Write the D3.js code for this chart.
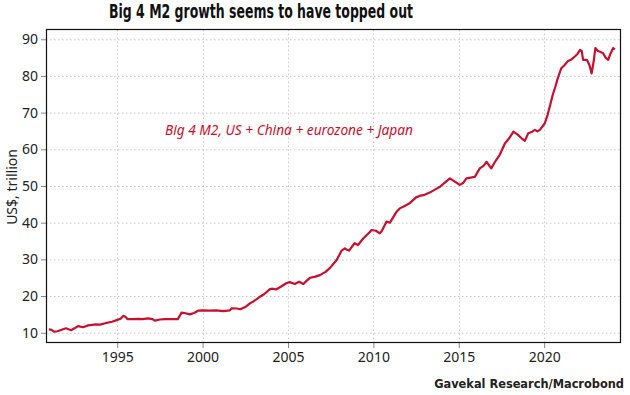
<!DOCTYPE html>
<html lang="en">
<head>
    <meta charset="utf-8">
    <script src="https://d3js.org/d3.v7.min.js"></script>
    <style>
        body { margin: 0; background: white; }
        .grid line { stroke: #c8c8c8; stroke-dasharray: 1.5, 2.5; }
        .tick text { font-family: "Noto Sans", sans-serif; font-size: 14px; fill: #222; }
    </style>
</head>
<body>
<script>
    // decimal years and Big 4 M2 (US$ trn)
    let years = [1991.0, 1991.15, 1991.3, 1991.5, 1991.75, 1992.0, 1992.3, 1992.5, 1992.7, 1993.0,
        1993.3, 1993.75, 1994.0, 1994.3, 1994.7, 1995.0, 1995.2, 1995.35, 1995.5, 1995.6,
        1995.9, 1996.2, 1996.5, 1996.8, 1997.07, 1997.2, 1997.5, 1997.8, 1998.1, 1998.55,
        1998.77, 1999.0, 1999.25, 1999.5, 1999.74, 2000.0, 2000.4, 2000.8, 2001.2, 2001.6,
        2001.7, 2002.0, 2002.2, 2002.5, 2002.77, 2003.0, 2003.35, 2003.6, 2003.94, 2004.1,
        2004.3, 2004.6, 2004.9, 2005.1, 2005.4, 2005.65, 2005.9, 2006.1, 2006.3, 2006.6,
        2006.87, 2007.2, 2007.45, 2007.7, 2007.85, 2008.14, 2008.33, 2008.45, 2008.58, 2008.75,
        2008.9, 2009.1, 2009.4, 2009.65, 2009.9, 2010.15, 2010.38, 2010.5, 2010.77, 2010.97,
        2011.2, 2011.36, 2011.55, 2011.8, 2012.1, 2012.5, 2012.7, 2013.0, 2013.3, 2013.6,
        2013.9, 2014.2, 2014.48, 2014.77, 2015.06, 2015.25, 2015.45, 2015.7, 2015.94, 2016.23,
        2016.45, 2016.63, 2016.9, 2017.15, 2017.4, 2017.7, 2017.95, 2018.2, 2018.45, 2018.68,
        2018.87, 2019.07, 2019.3, 2019.46, 2019.6, 2019.75, 2020.04, 2020.2, 2020.35, 2020.5,
        2020.65, 2020.8, 2021.0, 2021.2, 2021.4, 2021.6, 2021.8, 2021.95, 2022.1, 2022.2,
        2022.28, 2022.5, 2022.65, 2022.78, 2022.9, 2023.0, 2023.15, 2023.27, 2023.45, 2023.6,
        2023.75, 2023.85, 2024.04, 2024.15];
    let m2 = [10.9, 10.8, 10.3, 10.4, 10.8, 11.2, 10.7, 11.2, 11.8, 11.5,
        12.0, 12.3, 12.2, 12.6, 13.0, 13.5, 13.8, 14.6, 14.3, 13.7,
        13.7, 13.8, 13.7, 13.9, 13.7, 13.3, 13.6, 13.7, 13.7, 13.7,
        15.5, 15.3, 15.0, 15.4, 16.0, 16.1, 16.0, 16.1, 15.9, 16.1,
        16.65, 16.6, 16.4, 17.0, 18.0, 18.6, 19.8, 20.5, 21.9, 22.0,
        21.8, 22.6, 23.5, 23.8, 23.3, 23.9, 23.3, 24.2, 25.0, 25.3,
        25.7, 26.6, 27.6, 29.0, 29.8, 32.4, 33.0, 32.6, 32.4, 33.5,
        34.4, 33.9, 35.7, 36.8, 38.0, 37.8, 37.1, 37.8, 40.3, 40.0,
        41.8, 43.0, 43.9, 44.5, 45.2, 46.9, 47.3, 47.6, 48.2, 49.0,
        49.8, 51.0, 52.1, 51.2, 50.3, 50.8, 52.1, 52.3, 52.5, 54.8,
        55.5, 56.6, 54.8, 56.8, 58.5, 61.6, 63.0, 64.8, 64.0, 63.0,
        62.3, 64.4, 64.8, 65.3, 64.9, 65.3, 67.1, 69.4, 72.0, 74.8,
        77.0, 79.4, 82.1, 83.0, 84.1, 84.5, 85.3, 86.0, 87.1, 86.8,
        84.4, 84.4, 83.0, 80.7, 84.0, 87.6, 86.8, 86.6, 86.2, 85.0,
        84.4, 85.7, 87.6, 87.3];
    let yTicks = [10, 20, 30, 40, 50, 60, 70, 80, 90];
    let xTicks = [1995, 2000, 2005, 2010, 2015, 2020];

    let width = 630, height = 395;
    let margin = {top: 29, right: 9, bottom: 52, left: 46};
    let red = '#c8102e';

    let svg = d3.select('body').append('svg')
        .attr('width', width).attr('height', height);

    let x = d3.scaleLinear().domain([1990.83, 2024.5])
        .range([margin.left, width - margin.right]);
    let y = d3.scaleLinear().domain([7.2, 92.8])
        .range([height - margin.bottom, margin.top]);

    // grid
    let grid = svg.append('g').attr('class', 'grid');
    grid.selectAll('.gy').data(yTicks).enter().append('line')
        .attr('x1', x.range()[0]).attr('x2', x.range()[1])
        .attr('y1', d => y(d) + 0.5).attr('y2', d => y(d) + 0.5);
    grid.selectAll('.gx').data(xTicks).enter().append('line')
        .attr('x1', d => Math.round(x(d)) + 0.5).attr('x2', d => Math.round(x(d)) + 0.5)
        .attr('y1', y.range()[0]).attr('y2', y.range()[1]);

    // axes
    let yAxis = svg.append('g')
        .attr('transform', 'translate(' + margin.left + ',0)')
        .call(d3.axisLeft(y).tickValues(yTicks).tickSize(5).tickPadding(3));
    let xAxis = svg.append('g')
        .attr('transform', 'translate(0,' + (height - margin.bottom) + ')')
        .call(d3.axisBottom(x).tickValues(xTicks).tickFormat(d3.format('d')).tickSize(5).tickPadding(4));
    [yAxis, xAxis].forEach(function (a) {
        a.select('.domain').remove();
        a.selectAll('.tick line').attr('stroke', '#888');
    });

    // frame
    svg.append('rect')
        .attr('x', margin.left + 0.5).attr('y', margin.top + 0.5)
        .attr('width', width - margin.left - margin.right - 1)
        .attr('height', height - margin.top - margin.bottom - 1)
        .attr('fill', 'none').attr('stroke', '#111').attr('stroke-width', 1.2);

    // the series
    let line = d3.line()
        .x((d, i) => x(years[i]))
        .y(d => y(d));
    svg.append('path')
        .datum(m2)
        .attr('d', line)
        .attr('fill', 'none')
        .attr('stroke', red)
        .attr('stroke-width', 2.2)
        .attr('stroke-linejoin', 'round');

    // texts - squeezed to mimic the condensed face of the original
    let squeeze = function (sel, target) {
        sel.attr('textLength', target).attr('lengthAdjust', 'spacingAndGlyphs');
    };
    let fitText = function (sel, target) {
        let w = sel.node().getComputedTextLength();
        let fs = parseFloat(sel.attr('font-size'));
        sel.attr('font-size', fs * target / w);
    };

    let title = svg.append('text')
        .attr('x', 109).attr('y', 18)
        .attr('font-family', '"DejaVu Sans", sans-serif')
        .attr('font-weight', 'bold').attr('font-size', 19).attr('fill', '#111')
        .text('Big 4 M2 growth seems to have topped out');
    squeeze(title, 304);

    let note = svg.append('text')
        .attr('x', 165).attr('y', 135)
        .attr('font-family', '"Noto Sans", sans-serif')
        .attr('font-style', 'italic').attr('font-size', 14).attr('fill', red)
        .text('Big 4 M2, US + China + eurozone + Japan');
    squeeze(note, 248);

    svg.append('text')
        .attr('transform', 'translate(17,187) rotate(-90)')
        .attr('text-anchor', 'middle')
        .attr('font-family', '"Noto Sans", sans-serif')
        .attr('font-size', 14).attr('fill', '#222')
        .text('US$, trillion');

    let source = svg.append('text')
        .attr('x', 624).attr('y', 388)
        .attr('text-anchor', 'end')
        .attr('font-family', '"DejaVu Sans Condensed", "DejaVu Sans", sans-serif')
        .attr('font-weight', 'bold').attr('font-size', 12).attr('fill', '#222')
        .text('Gavekal Research/Macrobond');
    fitText(source, 190);
</script>
</body>
</html>
